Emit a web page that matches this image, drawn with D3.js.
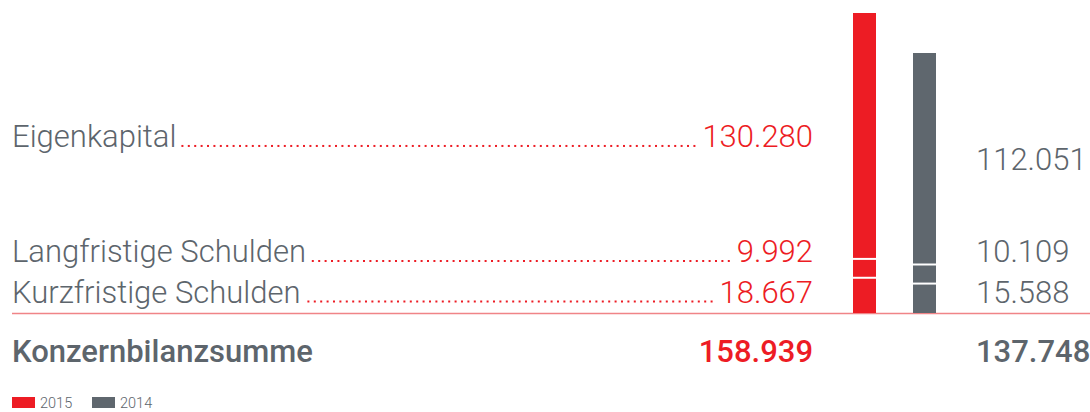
<!DOCTYPE html>
<html lang="de">
<head>
  <meta charset="UTF-8">
  <title>Konzernbilanz</title>
  <style>
    html, body { margin: 0; padding: 0; background: #fff; overflow: hidden; }
    svg { display: block; font-family: Roboto, "Open Sans", sans-serif; }
  </style>
</head>
<body>
  <svg id="chart"></svg>
  <script src="https://cdn.jsdelivr.net/npm/d3@7/dist/d3.min.js"></script>
  <script>
    // data (in Tsd. EUR)
    const categories = ['Eigenkapital', 'Langfristige Schulden', 'Kurzfristige Schulden'];
    const years = ['2015', '2014'];
    const values2015 = [130280, 9992, 18667];
    const values2014 = [112051, 10109, 15588];
    const totalLabel = 'Konzernbilanzsumme';

    const width = 1090, height = 412;
    const red = '#ed1c24', grey = '#5f676e', textGrey = '#5d656c';
    const baseY = 313, topY = 13;
    // text rows for the two smaller positions (same for both years)
    const rowY = { 'Langfristige Schulden': 262, 'Kurzfristige Schulden': 302.5 };
    const totalY = 362;

    const de = d3.formatLocale({ decimal: ',', thousands: '.', grouping: [3], currency: ['', ' €'] });
    const fmt = de.format(',d');

    const svg = d3.select('#chart').attr('width', width).attr('height', height);

    const rows = categories.map((c, i) => ({ cat: c, '2015': values2015[i], '2014': values2014[i] }));
    const totals = { '2015': d3.sum(values2015), '2014': d3.sum(values2014) };

    // stacked bottom-up: short-term, long-term, equity
    const order = categories.slice().reverse();
    const segs = years.flatMap(yr => {
      let acc = 0;
      return order.map(c => {
        const v = rows.find(r => r.cat === c)[yr];
        const seg = { year: yr, cat: c, y0: acc, y1: acc + v, value: v };
        acc += v;
        return seg;
      });
    });

    const x = d3.scaleBand().domain(years).range([853, 936]).paddingInner(37 / 60).paddingOuter(0);
    const y = d3.scaleLinear().domain([0, d3.max(Object.values(totals))]).range([baseY, topY]);
    const color = d3.scaleOrdinal().domain(years).range([red, grey]);

    // baseline rule
    svg.append('line')
      .attr('x1', 12).attr('x2', width)
      .attr('y1', baseY + 0.5).attr('y2', baseY + 0.5)
      .attr('stroke', '#f08487').attr('stroke-width', 1.6);

    // bars
    svg.selectAll('rect.seg')
      .data(segs)
      .enter()
      .append('rect')
      .attr('class', 'seg')
      .attr('x', d => x(d.year))
      .attr('width', x.bandwidth())
      .attr('y', d => y(d.y1))
      .attr('height', d => y(d.y0) - y(d.y1))
      .attr('fill', d => color(d.year));

    // white separators between segments
    svg.selectAll('line.sep')
      .data(segs.filter(d => d.y0 > 0))
      .enter()
      .append('line')
      .attr('class', 'sep')
      .attr('x1', d => x(d.year)).attr('x2', d => x(d.year) + x.bandwidth())
      .attr('y1', d => y(d.y0)).attr('y2', d => y(d.y0))
      .attr('stroke', '#fff').attr('stroke-width', 2);

    function labelY(year, cat) {
      if (rowY[cat]) return rowY[cat];
      const s = segs.find(d => d.year === year && d.cat === cat);
      return (y(s.y0) + y(s.y1)) / 2 + 11;
    }

    const fontSize = 31;

    categories.forEach((cat, i) => {
      const ly = labelY('2015', cat);
      const lab = svg.append('text')
        .attr('x', 12).attr('y', ly)
        .attr('fill', textGrey)
        .style('font-size', fontSize + 'px')
        .style('font-weight', 300)
        .text(cat);
      const val = svg.append('text')
        .attr('x', 813).attr('y', ly)
        .attr('text-anchor', 'end')
        .attr('fill', red)
        .style('font-size', fontSize + 'px')
        .style('font-weight', 300)
        .text(fmt(values2015[i]));
      // dotted leader
      const labEnd = 12 + lab.node().getComputedTextLength();
      const valStart = val.node().getBBox().x;
      const x1 = labEnd + 5, x2 = valStart - 8;
      const gap = 6.4;
      const n = Math.floor((x2 - x1) / gap);
      svg.append('g')
        .selectAll('rect')
        .data(d3.range(n + 1))
        .enter()
        .append('rect')
        .attr('x', k => x2 - (n - k) * gap - 1)
        .attr('y', ly - 2)
        .attr('width', 2).attr('height', 2)
        .attr('fill', red);

      svg.append('text')
        .attr('x', 976).attr('y', labelY('2014', cat))
        .attr('fill', textGrey)
        .style('font-size', fontSize + 'px')
        .style('font-weight', 300)
        .text(fmt(values2014[i]));
    });

    // totals
    const totalFont = '31px';
    svg.append('text')
      .attr('x', 12).attr('y', totalY)
      .attr('fill', textGrey)
      .style('font-size', totalFont).style('font-weight', 500)
      .text(totalLabel);
    svg.append('text')
      .attr('x', 813).attr('y', totalY)
      .attr('text-anchor', 'end')
      .attr('fill', red)
      .style('font-size', totalFont).style('font-weight', 500)
      .text(fmt(totals['2015']));
    svg.append('text')
      .attr('x', 976).attr('y', totalY)
      .attr('fill', textGrey)
      .style('font-size', totalFont).style('font-weight', 500)
      .text(fmt(totals['2014']));

    // legend
    const legend = svg.append('g').attr('transform', 'translate(12,397)');
    const item = legend.selectAll('g')
      .data(years)
      .enter()
      .append('g')
      .attr('transform', (d, i) => `translate(${i * 80},0)`);
    item.append('rect')
      .attr('width', 23).attr('height', 11)
      .attr('fill', d => color(d));
    item.append('text')
      .attr('x', 28).attr('y', 11)
      .attr('fill', textGrey)
      .style('font-size', '14.5px')
      .style('font-weight', 300)
      .text(d => d);
  </script>
</body>
</html>
